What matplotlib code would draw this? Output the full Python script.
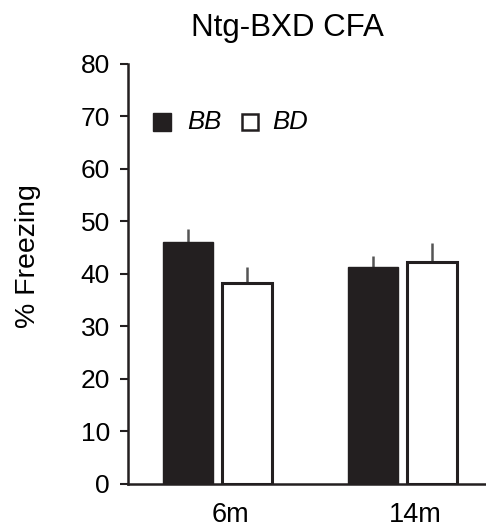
import matplotlib.pyplot as plt
import numpy as np

# data
groups = ["6m", "14m"]
bb_mean = [46.1, 41.3]
bb_err = [2.5, 2.1]
bd_mean = [38.3, 42.3]
bd_err = [3.0, 3.6]

plt.rcParams['font.family'] = ['Liberation Sans', 'DejaVu Sans']
ink = "#231f20"

fig = plt.figure(figsize=(4.86, 5.27), dpi=100)
ax = fig.add_axes([0.263, 0.0816, 0.737, 0.797])

x = np.arange(len(groups))
w = 0.27
ax.bar(x - 0.159, bb_mean, w, color=ink, edgecolor=ink, linewidth=1, zorder=2)
ax.bar(x + 0.159, bd_mean, w, color="white", edgecolor=ink, linewidth=2.2, zorder=2)
ax.errorbar(x - 0.159, bb_mean, yerr=[np.zeros(2), bb_err], fmt="none",
            ecolor="#555555", elinewidth=1.8, capsize=0, zorder=1)
ax.errorbar(x + 0.159, bd_mean, yerr=[np.zeros(2), bd_err], fmt="none",
            ecolor="#555555", elinewidth=1.8, capsize=0, zorder=1)

ax.set_xlim(-0.484, 1.451)
ax.set_ylim(0, 80)
ax.set_yticks(range(0, 81, 10))
ax.set_xticks(x + 0.07)
ax.set_xticklabels(groups)
ax.tick_params(axis="x", length=0, labelsize=19.5, pad=13)
ax.tick_params(axis="y", length=6, width=1.5, labelsize=19, color=ink, pad=7)
for s in ["top", "right"]:
    ax.spines[s].set_visible(False)
for s in ["left", "bottom"]:
    ax.spines[s].set_linewidth(1.8)
    ax.spines[s].set_color(ink)

fig.text(0.058, 0.514, "% Freezing", rotation=90, ha="center", va="center", fontsize=20.5)

# legend drawn as markers + italic text
ax.plot([-0.297], [68.9], marker="s", ms=13, color=ink, mec=ink, ls="none")
ax.text(-0.165, 68.9, "BB", style="italic", fontsize=18.5, va="center")
ax.plot([0.178], [68.9], marker="s", ms=11.5, mfc="white", mec=ink, mew=1.8, ls="none")
ax.text(0.295, 68.9, "BD", style="italic", fontsize=18.5, va="center")

fig.text(0.592, 0.947, "Ntg-BXD CFA", ha="center", va="center", fontsize=22.5)

fig.savefig("out.png", dpi=100)
